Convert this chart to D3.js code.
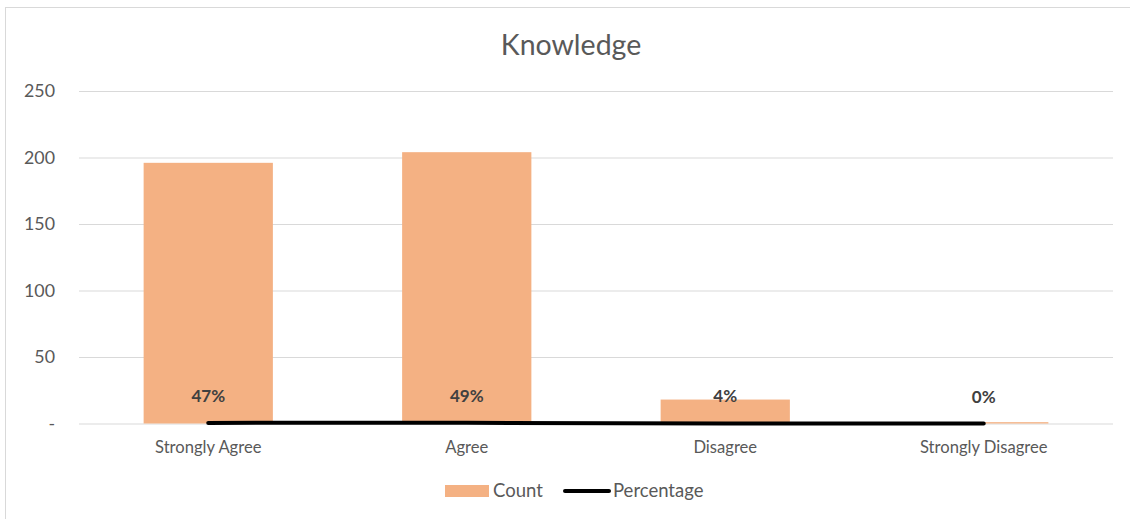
<!DOCTYPE html>
<html>
<head>
<meta charset="utf-8">
<script src="https://cdn.jsdelivr.net/npm/d3@7"></script>
<style>
  body { margin: 0; background: #fff; }
  text { font-family: Lato, "Open Sans", sans-serif; }
</style>
</head>
<body>
<div class="canvas"></div>
<script>
// chart data
const categories = ["Strongly Agree", "Agree", "Disagree", "Strongly Disagree"];
const counts = [196, 204, 18, 1];
const percentages = [0.47, 0.49, 0.04, 0.0];
const yTicks = [0, 50, 100, 150, 200, 250];

const svg = d3.select(".canvas").append("svg").attr("width", 1130).attr("height", 519);

// outer chart border (runs off the right/bottom edges)
svg.append("rect")
    .attr("x", 5.5).attr("y", 7.5)
    .attr("width", 1140).attr("height", 530)
    .attr("fill", "none")
    .attr("stroke", "#d9d9d9")
    .attr("stroke-width", 1);

const plot = { left: 79, right: 1113, top: 91, bottom: 423.5 };

const x = d3.scaleBand().domain(categories)
    .range([plot.left, plot.right])
    .paddingInner(0.5).paddingOuter(0.25);

const y = d3.scaleLinear().domain([0, 250]).range([plot.bottom, plot.top]);

// title
svg.append("text")
    .attr("x", 571).attr("y", 55)
    .attr("text-anchor", "middle")
    .attr("font-size", "28.5px")
    .attr("fill", "#595959")
    .text("Knowledge");

// gridlines + y labels
const yAxis = d3.axisLeft(y).tickValues(yTicks)
    .tickSize(-(plot.right - plot.left))
    .tickPadding(24)
    .tickFormat(d => d === 0 ? "-" : d);

const ya = svg.append("g").attr("transform", `translate(${plot.left},0)`).call(yAxis);
ya.select(".domain").remove();
ya.selectAll("line").attr("stroke", "#d9d9d9");
ya.selectAll("text").attr("font-size", "17.8px").attr("fill", "#595959")
    .style("font-family", "Lato, sans-serif");

// bars
svg.selectAll(".bar").data(counts).enter().append("rect")
    .attr("x", (d, i) => x(categories[i]))
    .attr("y", d => y(d))
    .attr("width", x.bandwidth())
    .attr("height", d => y(0) - y(d))
    .attr("fill", "#F4B183");

// percentage line (same axis)
const line = d3.line()
    .x((d, i) => x(categories[i]) + x.bandwidth() / 2)
    .y(d => y(d));

svg.append("path")
    .datum(percentages)
    .attr("d", line)
    .attr("fill", "none")
    .attr("stroke", "#000")
    .attr("stroke-width", 4)
    .attr("stroke-linecap", "round");

// data labels
svg.selectAll(".lbl").data(percentages).enter().append("text")
    .attr("x", (d, i) => x(categories[i]) + x.bandwidth() / 2)
    .attr("y", d => y(d) - 21)
    .attr("text-anchor", "middle")
    .attr("font-size", "17px")
    .attr("font-weight", "bold")
    .attr("fill", "#404040")
    .text(d => Math.round(d * 100) + "%");

// category labels
const xAxis = d3.axisBottom(x).tickSize(0).tickPadding(18);
const xa = svg.append("g").attr("transform", `translate(0,${plot.bottom})`).call(xAxis);
xa.select(".domain").remove();
xa.selectAll("text").attr("font-size", "16.6px").attr("fill", "#595959")
    .style("font-family", "Lato, sans-serif");

// legend
const legend = svg.append("g");
legend.append("rect")
    .attr("x", 445).attr("y", 485).attr("width", 44).attr("height", 12)
    .attr("fill", "#F4B183");
legend.append("text")
    .attr("x", 493).attr("y", 497)
    .attr("font-size", "18.5px").attr("fill", "#595959")
    .text("Count");
legend.append("line")
    .attr("x1", 565).attr("x2", 609).attr("y1", 491).attr("y2", 491)
    .attr("stroke", "#000").attr("stroke-width", 4).attr("stroke-linecap", "round");
legend.append("text")
    .attr("x", 613).attr("y", 497)
    .attr("font-size", "18.5px").attr("fill", "#595959")
    .text("Percentage");
</script>
</body>
</html>
